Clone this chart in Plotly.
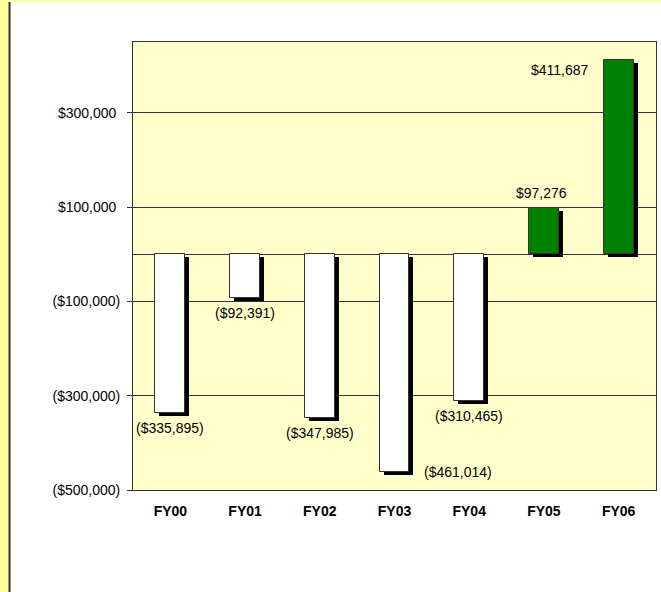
import plotly.graph_objects as go

categories = ["FY00", "FY01", "FY02", "FY03", "FY04", "FY05", "FY06"]
values = [-335895, -92391, -347985, -461014, -310465, 97276, 411687]
tick_vals = [-500000, -300000, -100000, 100000, 300000]
tick_text = ["($500,000)", "($300,000)", "($100,000)", "$100,000\u00a0", "$300,000\u00a0"]

# label placement (style only): xanchor, xshift, yshift
label_pos = [("center", 0, -15), ("center", 0, -15), ("center", 0, -15),
             ("left", 27, 0), ("center", 0, -15), ("center", -2, 15),
             ("right", -28, -10)]


def fmt(v):
    s = "${:,.0f}".format(abs(v))
    return "(" + s + ")" if v < 0 else s


W, H = 661, 592
L, R, T, B = 133, 5, 42, 102
pw, ph = W - L - R, H - T - B
font = "Liberation Sans, Arial, sans-serif"

fills = ["#008000" if v > 0 else "#FFFFFF" for v in values]
ymin, ymax = -500000, 450000
shadow_dy = 3 / ph * (ymax - ymin)

fig = go.Figure()
fig.add_trace(go.Bar(x=categories, y=values, base=[-shadow_dy] * len(values),
                     width=0.4, offset=-0.2 + 4 / (pw / 7),
                     marker=dict(color="#000000", line=dict(width=0)),
                     hoverinfo="skip", showlegend=False))
fig.add_trace(go.Bar(x=categories, y=values, width=0.4, offset=-0.2,
                     marker=dict(color=fills, line=dict(color="#333333", width=1)),
                     showlegend=False))

anns = []
for c, v, (xa, xs, ys) in zip(categories, values, label_pos):
    anns.append(dict(x=c, y=v, text=fmt(v), showarrow=False, xanchor=xa,
                     yanchor="middle", xshift=xs, yshift=ys,
                     font=dict(family=font, size=14, color="#000000")))


def px_x(p):
    return (p - L) / pw


def px_y(p):
    return (H - B - p) / ph


shapes = [
    dict(type="rect", xref="paper", yref="paper", x0=px_x(0), x1=px_x(8.5),
         y0=px_y(H), y1=px_y(0), fillcolor="#FFFF99", line=dict(width=0), layer="below"),
    dict(type="rect", xref="paper", yref="paper", x0=px_x(0), x1=px_x(W),
         y0=px_y(2), y1=px_y(0), fillcolor="#FFFF99", line=dict(width=0), layer="below"),
    dict(type="rect", xref="paper", yref="paper", x0=px_x(8.5), x1=px_x(10.5),
         y0=px_y(H), y1=px_y(2), fillcolor="#333333", line=dict(width=0), layer="below"),
]

fig.update_layout(
    width=W, height=H,
    margin=dict(l=L, r=R, t=T, b=B, pad=0),
    paper_bgcolor="#FFFFFF", plot_bgcolor="#FFFFCC",
    barmode="overlay", bargap=0,
    annotations=anns, shapes=shapes,
    font=dict(family=font, size=14, color="#000000"),
    xaxis=dict(type="category", showgrid=False, ticks="", ticklabelstandoff=8,
               tickfont=dict(family=font, size=14, color="#000000", weight="bold"),
               showline=True, linecolor="#333333", linewidth=1, mirror=True,
               range=[-0.5, 6.5], fixedrange=True),
    yaxis=dict(range=[ymin, ymax], tickvals=tick_vals, ticktext=tick_text,
               ticks="outside", ticklen=5, tickcolor="#333333", tickwidth=1,
               ticklabelstandoff=4,
               showgrid=True, gridcolor="#333333", gridwidth=1,
               zeroline=True, zerolinecolor="#333333", zerolinewidth=1,
               showline=True, linecolor="#333333", linewidth=1, mirror=True,
               tickfont=dict(family=font, size=14, color="#000000"),
               fixedrange=True),
)

fig.write_html("out.html", config={"displayModeBar": False},
               post_script="document.body.style.margin='0px';document.body.style.overflow='hidden';")
